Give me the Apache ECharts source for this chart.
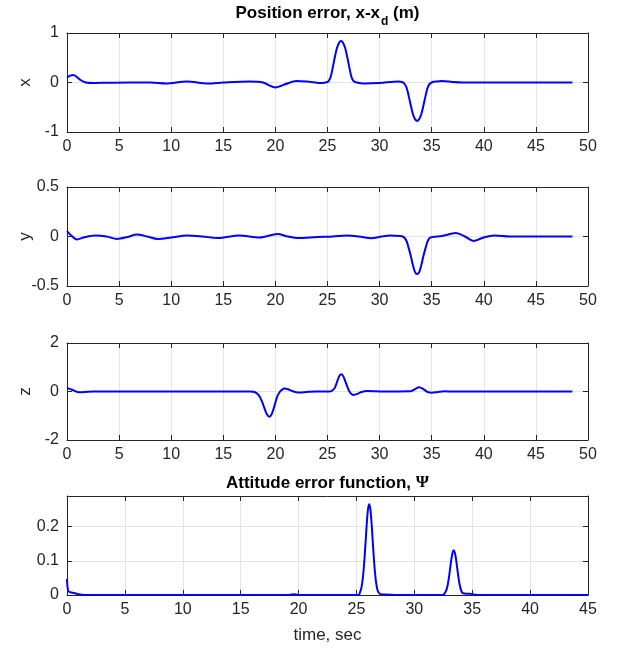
<!DOCTYPE html>
<html>
<head>
<meta charset="utf-8">
<script src="https://cdn.jsdelivr.net/npm/echarts@6/dist/echarts.min.js"></script>
<style>html,body{margin:0;padding:0;background:#fff;}#c{width:622px;height:649px;}</style>
</head>
<body>
<div id="c"></div>
<script>
// ---- data: [time (s), value] ----
const posX = [[0,0.1],[0.3,0.14],[0.6,0.15],[0.9,0.12],[1.3,0.05],[1.8,0.0],[2.5,-0.01],[4,-0.005],[6,0],[8,0],[9.5,-0.02],[11.5,0.02],[13.5,-0.02],[15,0],[17.5,0.02],[18.8,0],[20,-0.1],[21,-0.03],[22,0.03],[23,0.02],[24.5,-0.01],
  [24.9,0.005],[25.1,0.03],[25.3,0.11],[25.5,0.30],[25.7,0.51],[25.9,0.69],[26.1,0.80],[26.3,0.84],[26.5,0.80],[26.7,0.69],[26.9,0.51],[27.1,0.30],[27.3,0.11],[27.5,0.03],[27.8,0.0],[28.5,-0.02],[30,-0.01],[31.8,0.02],
  [32.2,0.005],[32.4,-0.03],[32.6,-0.11],[32.8,-0.28],[33.0,-0.47],[33.2,-0.64],[33.4,-0.74],[33.6,-0.78],[33.8,-0.74],[34.0,-0.64],[34.2,-0.47],[34.4,-0.28],[34.6,-0.11],[34.8,-0.03],[35.1,0.01],[35.4,0.02],[36,0.03],[37,0.01],[38,0],[40,0],[44,0],[48.5,0]];
const posY = [[0,0.054],[0.4,0.01],[0.95,-0.03],[1.6,-0.01],[2.7,0.01],[3.8,0.0],[4.8,-0.025],[5.8,-0.005],[6.7,0.02],[7.7,0.0],[8.7,-0.025],[10,-0.01],[11.5,0.01],[13,0.0],[14.5,-0.015],[16.5,0.01],[18.5,-0.01],[20.2,0.025],[21.2,0.0],[22.2,-0.015],[24,-0.005],[25.5,0.0],[26.8,0.01],[28,0.0],[29.2,-0.018],[30.2,0.0],[31,0.01],[32.0,0.005],
  [32.2,0.0],[32.4,-0.015],[32.6,-0.05],[32.8,-0.12],[33.0,-0.2],[33.2,-0.29],[33.4,-0.36],[33.6,-0.38],[33.8,-0.36],[34.0,-0.29],[34.2,-0.2],[34.4,-0.12],[34.6,-0.05],[34.8,-0.015],[35.1,-0.005],[36,0.005],[37.3,0.035],[38.2,0.0],[39,-0.045],[40,-0.01],[41,0.01],[42.5,0],[45,0],[48.5,0]];
const posZ = [[0,0.15],[0.5,0.07],[1,-0.02],[1.5,-0.03],[2.5,0],[10,0],[17.6,0],[18.0,-0.02],[18.4,-0.15],[18.7,-0.4],[19.0,-0.75],[19.2,-0.95],[19.4,-1.04],[19.6,-0.97],[19.8,-0.75],[20.0,-0.45],[20.2,-0.18],[20.45,0.0],[20.7,0.1],[20.9,0.12],[21.2,0.09],[21.6,0.02],[22.0,-0.03],[22.4,-0.04],[23,-0.02],[24,0],[25.2,0],
  [25.4,0.02],[25.7,0.15],[26.0,0.5],[26.15,0.65],[26.3,0.71],[26.5,0.64],[26.7,0.43],[26.9,0.2],[27.1,0.0],[27.3,-0.1],[27.5,-0.14],[27.8,-0.11],[28.2,-0.03],[28.8,0.02],[29.5,0.01],[30,0],[33,0.01],[33.4,0.1],[33.8,0.18],[34.2,0.1],[34.6,-0.02],[35,-0.05],[35.5,-0.03],[36.2,0.01],[37,0],[48.5,0]];
const psi = [[0,0.047],[0.1,0.012],[0.3,0.008],[0.6,0.006],[1,0.002],[1.5,0],[19,0],[19.6,0.002],[20.2,0],[25.2,0],
  [25.3,0.008],[25.4,0.017],[25.5,0.036],[25.6,0.066],[25.7,0.109],[25.8,0.161],[25.9,0.213],[26.0,0.252],[26.1,0.266],[26.2,0.252],[26.3,0.213],[26.4,0.161],[26.5,0.109],[26.6,0.066],[26.7,0.036],[26.8,0.017],[26.9,0.008],[27.1,0.002],[27.8,0.001],[28.5,0],[32.5,0],
  [32.6,0.004],[32.7,0.009],[32.8,0.018],[32.9,0.033],[33.0,0.054],[33.1,0.080],[33.2,0.105],[33.3,0.124],[33.4,0.131],[33.5,0.124],[33.6,0.105],[33.7,0.080],[33.8,0.054],[33.9,0.033],[34.0,0.018],[34.1,0.009],[34.2,0.005],[34.5,0.004],[34.8,0.004],[35.2,0.001],[36,0],[45,0]];

const xTicksMain = {min:0, max:50, interval:5};
const xTicksPsi = {min:0, max:45, interval:5};
const panels = [
  {data: posX, x: xTicksMain, y: {min:-1, max:1, interval:1}, name: 'x'},
  {data: posY, x: xTicksMain, y: {min:-0.5, max:0.5, interval:0.5}, name: 'y'},
  {data: posZ, x: xTicksMain, y: {min:-2, max:2, interval:2}, name: 'z'},
  {data: psi,  x: xTicksPsi,  y: {min:0, max:0.29, interval:0.1}, name: ''}
];

// ---- layout ----
// Each panel uses two overlapping grids so x and y labels never interact:
// grid A: bottom x axis (labels) + right y axis;  grid B: top x axis + left y axis (labels).
const FONT = 'Liberation Sans, Arial, Helvetica, sans-serif';
const AX = '#262626', GRID = '#e3e3e3';
const tops = [33, 187, 343, 496], heights = [99, 99, 97, 99];
const grid = [], xAxis = [], yAxis = [], series = [];
panels.forEach((p, i) => {
  const gA = 2 * i, gB = 2 * i + 1;
  grid.push({left: 67, right: 34, top: tops[i], height: heights[i]});
  grid.push({left: 67, right: 34, top: tops[i], height: heights[i]});
  const tick = {inside: true, length: 5, lineStyle: {color: AX, width: 1}};
  const line = {show: true, onZero: false, lineStyle: {color: AX, width: 1}};
  const lab = {color: AX, fontSize: 16, fontFamily: FONT};
  // grid A
  xAxis.push(Object.assign({gridIndex: gA, type: 'value', position: 'bottom', axisLine: line, axisTick: tick,
    axisLabel: Object.assign({margin: 7}, lab),
    splitLine: {show: true, lineStyle: {color: GRID, width: 1}},
    name: i === 3 ? 'time, sec' : '', nameLocation: 'middle', nameGap: 32, nameMoveOverlap: false,
    nameTextStyle: {color: AX, fontSize: 17, fontFamily: FONT}}, p.x));
  yAxis.push(Object.assign({gridIndex: gA, type: 'value', position: 'right', axisLine: line, axisTick: tick,
    axisLabel: {show: false}, splitLine: {show: true, lineStyle: {color: GRID, width: 1}}}, p.y));
  // grid B
  xAxis.push(Object.assign({gridIndex: gB, type: 'value', position: 'top', axisLine: line, axisTick: tick,
    axisLabel: {show: false}, splitLine: {show: false}}, p.x));
  yAxis.push(Object.assign({gridIndex: gB, type: 'value', position: 'left', axisLine: line, axisTick: tick,
    axisLabel: Object.assign({margin: 8, showMaxLabel: i !== 3}, lab),
    splitLine: {show: false},
    name: p.name, nameLocation: 'middle', nameGap: 36, nameMoveOverlap: false,
    nameTextStyle: {color: AX, fontSize: 17, lineHeight: 12, fontFamily: FONT}}, p.y));
  series.push({type: 'line', xAxisIndex: gA, yAxisIndex: gA, data: p.data, showSymbol: false,
    smooth: 0.3, clip: true, lineStyle: {color: '#0000ff', width: 2}, z: 5});
});

const chart = echarts.init(document.getElementById('c'), null, {renderer: 'canvas'});
chart.setOption({
  animation: false,
  backgroundColor: '#ffffff',
  grid, xAxis, yAxis, series,
  graphic: [
    {type: 'text', x: 327.5, y: 5, style: {
      text: '{a|Position error, x-x}{s|d}{a| (m)}', align: 'center', verticalAlign: 'top',
      rich: {a: {fontSize: 17, fontWeight: 'bold', fontFamily: FONT, fill: '#000', verticalAlign: 'top', lineHeight: 19},
             s: {fontSize: 12, fontWeight: 'bold', fontFamily: FONT, fill: '#000', verticalAlign: 'top', lineHeight: 13, padding: [11, 0, 0, 1]}}}},
    {type: 'text', x: 327.5, y: 483, style: {
      text: '{a|Attitude error function, }{g|Ψ}', align: 'center', verticalAlign: 'middle',
      rich: {a: {fontSize: 17, fontWeight: 'bold', fontFamily: FONT, fill: '#000'},
             g: {fontSize: 17, fontWeight: 'bold', fontFamily: 'Liberation Serif, DejaVu Serif, serif', fill: '#000'}}}}
  ]
});
</script>
</body>
</html>
